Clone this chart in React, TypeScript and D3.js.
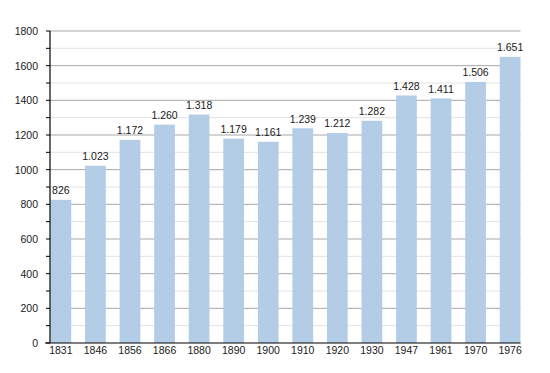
import React from 'react';
import * as d3 from 'd3';

const years = ['1831', '1846', '1856', '1866', '1880', '1890', '1900', '1910', '1920', '1930', '1947', '1961', '1970', '1976'];
const population = [826, 1023, 1172, 1260, 1318, 1179, 1161, 1239, 1212, 1282, 1428, 1411, 1506, 1651];
const majorTicks = [0, 200, 400, 600, 800, 1000, 1200, 1400, 1600, 1800];
const minorTicks = [100, 300, 500, 700, 900, 1100, 1300, 1500, 1700];

const width = 550;
const height = 373;
const left = 50;
const right = 520.5;
const top = 31;
const bottom = 343;

// 1023 -> "1.023"
const fmt = (v: number) => (v >= 1000 ? d3.format(',')(v).replace(',', '.') : String(v));

const App = () => {
  const x = d3.scaleBand<string>().domain(years).range([left + 0.5, right]).paddingInner(0.4).paddingOuter(0);
  const y = d3.scaleLinear().domain([0, 1800]).range([bottom, top]);

  return (
    <svg
      width={width}
      height={height}
      style={{ position: 'absolute', left: 0, top: 0 }}
      fontFamily="Liberation Sans, Arial, sans-serif"
      fontSize={10.5}
    >
      <rect width={width} height={height} fill="#fff" />
      {/* minor grid */}
      {minorTicks.map((t) => (
        <line key={'m' + t} x1={left} x2={right} y1={y(t)} y2={y(t)} stroke="#e2e2e2" />
      ))}
      {/* major grid */}
      {majorTicks.slice(1).map((t) => (
        <line key={'g' + t} x1={left} x2={right} y1={y(t)} y2={y(t)} stroke="#a8a8a8" />
      ))}
      {/* bars */}
      {population.map((v, i) => (
        <rect key={years[i]} x={x(years[i])} y={y(v)} width={x.bandwidth()} height={bottom - y(v)} fill="#b3cde6" />
      ))}
      {/* value labels */}
      {population.map((v, i) => (
        <text key={'v' + years[i]} x={(x(years[i]) ?? 0) + x.bandwidth() / 2} y={y(v) - 5.5} textAnchor="middle" fill="#1a1a1a">
          {fmt(v)}
        </text>
      ))}
      {/* y axis */}
      <line x1={left} x2={left} y1={top} y2={bottom} stroke="#000" strokeWidth={1.2} />
      {majorTicks.concat(minorTicks).map((t) => (
        <line key={'t' + t} x1={left - 4} x2={left} y1={y(t)} y2={y(t)} stroke="#000" />
      ))}
      {majorTicks.map((t) => (
        <text key={'l' + t} x={38} y={y(t) + 4} textAnchor="end" fill="#1a1a1a">
          {t}
        </text>
      ))}
      {/* x axis */}
      <line x1={left - 5} x2={right} y1={bottom} y2={bottom} stroke="#000" strokeWidth={1.2} />
      {years.map((yr) => (
        <text key={'x' + yr} x={(x(yr) ?? 0) + x.bandwidth() / 2} y={353.5} textAnchor="middle" fill="#1a1a1a">
          {yr}
        </text>
      ))}
    </svg>
  );
};

export default App;
